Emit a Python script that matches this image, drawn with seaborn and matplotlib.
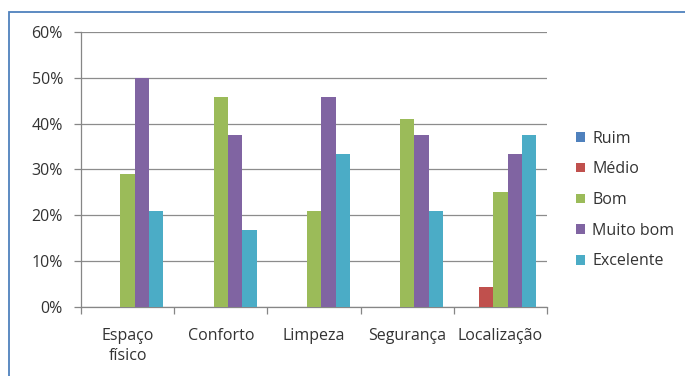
import matplotlib
matplotlib.use("Agg")
import matplotlib.pyplot as plt
import pandas as pd
import seaborn as sns
from matplotlib.patches import Rectangle
from matplotlib.ticker import FuncFormatter, MultipleLocator

CATEGORIES = ["Espaço\nfísico", "Conforto", "Limpeza", "Segurança", "Localização"]
SERIES = ["Ruim", "Médio", "Bom", "Muito bom", "Excelente"]
COLORS = ["#4F81BD", "#C0504D", "#9BBB59", "#8064A2", "#4BACC6"]

RUIM = [0.0, 0.0, 0.0, 0.0, 0.0]
MEDIO = [0.0, 0.0, 0.0, 0.0, 4.2]
BOM = [29.0, 45.8, 20.8, 41.0, 25.0]
MUITO_BOM = [50.0, 37.5, 45.8, 37.5, 33.3]
EXCELENTE = [20.8, 16.7, 33.3, 20.8, 37.5]

values = [RUIM, MEDIO, BOM, MUITO_BOM, EXCELENTE]
rows = []
for name, vals in zip(SERIES, values):
    for cat, v in zip(CATEGORIES, vals):
        rows.append({"categoria": cat, "avaliacao": name, "pct": v})
df = pd.DataFrame(rows)

sns.set_theme(style="white")
plt.rcParams["font.family"] = ["Open Sans", "DejaVu Sans"]
FS = 11.5

fig = plt.figure(figsize=(6.85, 3.76), dpi=100)
ax = fig.add_axes([81 / 685, 69.3 / 376, 466 / 685, 274.7 / 376])

sns.barplot(
    data=df,
    x="categoria",
    y="pct",
    hue="avaliacao",
    hue_order=SERIES,
    order=CATEGORIES,
    palette=COLORS,
    width=0.77,
    gap=0,
    saturation=1,
    linewidth=0,
    ax=ax,
    zorder=3,
)

ax.set_ylim(0, 60)
ax.set_xlim(-0.5, len(CATEGORIES) - 0.5)
ax.yaxis.set_major_locator(MultipleLocator(10))
ax.yaxis.set_major_formatter(FuncFormatter(lambda v, _: f"{v:.0f}%"))
ax.grid(axis="y", color="#8c8c8c", linewidth=0.9, zorder=0)
ax.set_axisbelow(True)
ax.set_xlabel("")
ax.set_ylabel("")

for side in ["top", "right"]:
    ax.spines[side].set_visible(False)
for side in ["left", "bottom"]:
    ax.spines[side].set_color("#868686")
    ax.spines[side].set_linewidth(0.9)

ax.tick_params(axis="y", which="major", left=True, length=5, width=0.9,
               color="#868686", labelsize=FS, labelcolor="#333333", pad=8)
ax.set_xticks([i - 0.5 for i in range(len(CATEGORIES) + 1)], minor=True)
ax.tick_params(axis="x", which="minor", bottom=True, length=5, width=0.9,
               color="#868686")
ax.tick_params(axis="x", which="major", bottom=False, labelsize=FS,
               labelcolor="#333333", pad=9)
for lbl in ax.get_xticklabels():
    lbl.set_linespacing(1.35)
    lbl.set_verticalalignment("top")

# legenda a direita, centrada na altura ~200 px a partir do topo
handles, labels = ax.get_legend_handles_labels()
ax.legend(
    handles, labels,
    loc="center left",
    bbox_to_anchor=(562 / 685, (376 - 200) / 376),
    bbox_transform=fig.transFigure,
    frameon=False,
    fontsize=FS,
    handlelength=0.55,
    handleheight=0.55,
    handletextpad=0.45,
    labelspacing=0.92,
    labelcolor="#333333",
)

border = Rectangle((9 / 685, -0.1), 1.2, (376 - 12) / 376 + 0.1,
                   transform=fig.transFigure, fill=False,
                   edgecolor="#4F81BD", linewidth=1.3, clip_on=False)
fig.patches.append(border)

fig.savefig("out.png", dpi=100)
